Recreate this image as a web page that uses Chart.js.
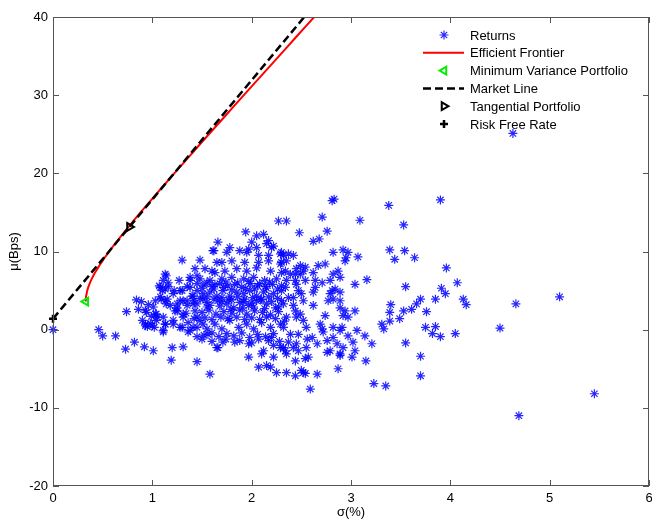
<!DOCTYPE html>
<html>
<head>
<meta charset="utf-8">
<script src="https://cdn.jsdelivr.net/npm/chart.js@4.4.1/dist/chart.umd.min.js"></script>
<style>
  html, body { margin: 0; padding: 0; background: #fff; }
  #wrap { width: 652px; height: 522px; }
</style>
</head>
<body>
<div id="wrap"><canvas id="chart" width="652" height="522"></canvas></div>
<script>
const xTickValues = [0, 1, 2, 3, 4, 5, 6];
const yTickValues = [-20, -10, 0, 10, 20, 30, 40];

const seriesLabels = [
  "Returns",
  "Efficient Frontier",
  "Minimum Variance Portfolio",
  "Market Line",
  "Tangential Portfolio",
  "Risk Free Rate"
];

// [sigma (%), mu (Bps)]
const returnsData = [
  [0.0, 0.0], [0.46, 0.0], [0.5, -0.8], [0.63, -0.8], [0.74, 2.3], [0.73, -2.5], [0.82, -1.6], [0.92, -2.2], [1.01, -2.7],
  [0.84, 3.8], [0.89, 3.6], [0.96, 3.2], [1.01, 2.9], [0.94, 2.2], [0.99, 1.7], [1.04, 2.0], [0.86, 2.6], [0.93, 2.5],
  [0.9, 1.2], [0.93, 0.5], [0.98, 0.8], [1.02, 0.3], [0.93, 0.7], [0.95, 0.4],
  [1.11, 1.6], [1.13, 0.7], [1.11, -0.3], [1.2, -2.3], [1.19, -3.9], [1.31, -2.2], [1.45, -4.1],
  [1.07, 5.6], [1.1, 5.0], [1.16, 5.5], [1.08, 4.2], [1.15, 3.9], [1.21, 4.6], [1.28, 5.0], [1.35, 5.5], [1.4, 4.3],
  [1.28, 3.7], [1.35, 3.1], [1.41, 3.3], [1.18, 3.1], [1.25, 2.4], [1.31, 1.6], [1.36, 0.9], [1.3, 0.3], [1.38, -0.1],
  [1.45, 0.3], [1.21, 0.7],
  [1.3, 8.9], [1.48, 8.9], [1.62, 10.1], [1.66, 11.2],
  [1.13, 7.1], [1.11, 6.3], [1.08, 5.4], [1.13, 5.2], [1.16, 6.0],
  [1.27, 6.3], [1.3, 5.0], [1.22, 5.0], [1.38, 6.3], [1.43, 7.8], [1.53, 7.8], [1.6, 7.5], [1.65, 8.6], [1.45, 6.9],
  [1.09, 3.9], [1.13, 3.7], [1.03, 3.7],
  [1.25, 3.3], [1.31, 3.7], [1.35, 3.7], [1.23, 2.4], [1.31, 2.0], [1.21, 1.2], [1.28, 0.3], [1.36, -0.3], [1.13, 0.7],
  [1.11, -0.1], [1.03, 2.0], [1.05, 1.6], [1.0, 0.5], [1.58, -5.7], [1.65, -2.3], [1.56, -0.6], [1.51, 0.7], [1.45, 1.6],
  [1.41, 0.3],
  [2.27, 13.9], [1.94, 12.5], [2.05, 12.0], [2.12, 12.2], [2.17, 11.4], [2.22, 10.7], [2.3, 9.9], [1.78, 10.5],
  [1.88, 10.1], [1.97, 10.3], [2.0, 11.2],
  [1.7, 8.6], [1.8, 8.8], [1.93, 8.6], [2.07, 8.6], [2.17, 8.8], [2.29, 8.4],
  [1.66, -2.3], [1.71, -1.6], [1.83, -1.6], [1.97, -1.8], [2.07, -1.2], [2.17, -1.4], [2.29, -2.3],
  [1.97, -3.5], [2.1, -3.1], [2.22, -3.5], [2.07, -4.8], [2.15, -4.6], [2.19, -4.8], [2.25, -5.5],
  [2.81, 16.5], [2.83, 16.7], [2.71, 14.4], [2.35, 13.9], [2.48, 12.4], [2.76, 12.6], [2.62, 11.3], [2.68, 11.6],
  [2.82, 9.9], [2.92, 10.2], [2.95, 9.2], [2.97, 9.9],
  [2.29, 9.7], [2.32, 9.5], [2.37, 9.7], [2.42, 9.5], [2.35, 8.8], [2.3, 8.6],
  [2.49, 8.2], [2.54, 8.0], [2.45, 7.8], [2.44, 7.1], [2.44, 6.3], [2.67, 8.2], [2.74, 8.4],
  [2.64, 6.3], [2.71, 6.0], [2.64, 5.4], [2.82, 7.1], [2.87, 7.5], [2.79, 6.3], [2.81, 5.0], [2.84, 5.2], [2.77, 3.7],
  [2.82, 3.9], [2.89, 3.7],
  [2.94, 2.4], [2.92, 1.8], [2.97, 1.6], [2.74, 1.8],
  [2.71, 0.1], [2.72, -0.3], [2.76, -1.4], [2.82, -1.0], [2.91, 0.3], [2.89, -0.1], [2.86, -1.8], [2.89, -3.1],
  [2.97, -0.8], [2.92, -2.3],
  [2.87, -5.0], [2.76, -2.9], [2.66, -5.7], [2.59, -7.6], [2.52, -5.5], [2.44, -5.9], [2.35, -5.5], [2.54, -3.7],
  [2.57, -3.5], [2.44, -4.0],
  [2.34, 7.5], [2.39, 7.1], [2.34, 5.4], [2.37, 4.1], [2.32, 3.3], [2.42, 4.1], [2.47, 5.0], [2.5, 4.6], [2.44, 2.4],
  [2.35, 1.6], [2.45, 1.6], [2.49, 2.0], [2.52, 1.2], [2.32, 0.3], [2.39, -0.6], [2.47, -0.6], [2.37, -1.6], [2.32, -2.3],
  [2.42, -2.3], [2.35, -3.1], [2.45, -1.8], [2.47, -2.7], [2.61, -1.0], [2.56, -1.2], [2.52, 7.5], [2.49, 7.1],
  [3.38, 15.9], [3.9, 16.6], [3.09, 14.0], [3.53, 13.4], [3.07, 9.3], [3.39, 10.2], [3.54, 10.1], [3.44, 9.0], [3.64, 9.2],
  [3.96, 7.9], [4.07, 6.0], [3.91, 5.3], [3.95, 4.6], [4.13, 3.9], [4.16, 3.2], [3.55, 5.5], [3.16, 6.4], [3.04, 5.8],
  [3.85, 3.9], [3.7, 3.9], [3.66, 3.3], [3.61, 2.6], [3.53, 2.4], [3.76, 2.3], [3.49, 1.4], [3.39, 1.1], [3.39, 2.2],
  [3.4, 3.2], [3.31, 0.7], [3.33, 0.1], [3.75, 0.3], [3.85, 0.4], [3.82, -0.5], [3.9, -0.9], [4.05, -0.5], [3.55, -1.7],
  [3.04, 2.4], [4.5, 0.2], [4.66, 3.3], [5.1, 4.2], [3.7, -3.4], [3.7, -5.9], [3.23, -6.9], [3.35, -7.2], [5.45, -8.2],
  [4.69, -11.0], [3.15, -4.0], [3.21, -1.8], [3.04, -2.7], [3.01, -3.5], [2.89, -3.3], [2.54, -5.6], [2.5, -5.2],
  [3.02, -1.6], [3.06, -0.1], [3.14, -0.8], [4.63, 25.1],
  [2.05, 10.5], [2.15, 11.0], [2.2, 10.5], [1.61, 10.1], [1.75, 9.9], [1.95, 9.9], [2.07, 9.5], [2.17, 9.5], [2.94, 8.8],
  [1.63, 7.3], [1.73, 7.5], [1.85, 7.8], [1.95, 7.5], [2.05, 7.9], [2.19, 7.5], [2.3, 7.3], [2.62, 7.3], [2.89, 6.7],
  [1.14, 6.9], [1.38, 6.7], [1.48, 6.5], [1.58, 6.3], [1.7, 6.5], [1.8, 6.7], [1.92, 6.5], [2.02, 6.7], [2.13, 6.3],
  [2.25, 6.5], [2.35, 6.3], [2.45, 5.8], [2.54, 6.3],
  [1.45, 5.0], [1.51, 4.6], [1.58, 4.8], [1.65, 4.3], [1.71, 5.0], [1.78, 4.3], [1.85, 4.8], [1.92, 4.6], [1.98, 5.0],
  [2.05, 4.3], [2.12, 4.8], [2.22, 4.6], [2.3, 5.0], [2.62, 4.8], [2.79, 4.6], [2.89, 4.8],
  [1.14, 3.3], [1.25, 2.8], [1.45, 3.3], [1.51, 3.9], [1.58, 3.1], [1.66, 3.7], [1.75, 3.3], [1.82, 2.8], [1.88, 3.5],
  [1.97, 3.1], [2.05, 3.7], [2.15, 3.3], [2.24, 2.8], [2.42, 3.1], [2.52, 3.7], [2.62, 3.1], [2.89, 2.8],
  [1.04, 1.2], [1.48, 1.2], [1.55, 0.1], [1.63, 0.7], [1.7, 0.1], [1.78, 1.2], [1.87, 0.3], [1.95, 0.7], [2.02, 0.1],
  [2.1, 0.9], [2.19, 0.3], [2.29, 0.7], [2.55, 0.3], [2.69, 0.7], [2.82, 0.3],
  [1.5, -1.2], [2.12, -2.7], [2.22, -2.0], [2.34, -2.7], [2.55, -2.3], [2.66, -1.8], [2.79, -2.7],
  [1.52, 5.7], [1.6, 5.5], [1.68, 5.9], [1.76, 5.6], [1.83, 5.8], [1.9, 5.4], [1.99, 5.9], [2.06, 5.6], [2.14, 5.5],
  [2.21, 5.8], [2.3, 5.6], [1.45, 5.9], [1.38, 5.4],
  [1.48, 4.0], [1.55, 4.2], [1.62, 3.9], [1.7, 4.1], [1.77, 3.8], [1.86, 4.2], [1.93, 3.9], [2.01, 4.1], [2.09, 3.8],
  [2.17, 4.2], [2.26, 4.0], [1.41, 4.3],
  [1.5, 2.2], [1.57, 2.5], [1.64, 2.0], [1.72, 2.3], [1.8, 2.1], [1.88, 2.5], [1.95, 2.0], [2.03, 2.4], [2.11, 2.2],
  [2.19, 1.9], [2.27, 2.3], [1.43, 2.4], [1.34, 2.1],
  [1.52, -0.7], [1.6, -0.4], [1.67, -0.9], [1.75, -0.5], [1.82, -0.8], [1.9, -0.4], [1.98, -1.0], [2.06, -0.6],
  [2.14, -0.9], [2.22, -0.5], [1.45, -0.9],
  [1.55, 6.0], [1.63, 5.8], [1.74, 6.1], [1.86, 6.0], [1.97, 6.2], [2.08, 5.9], [2.18, 6.1],
  [1.5, 5.3], [1.62, 5.2], [1.72, 5.4], [1.8, 5.1], [1.94, 5.3], [2.03, 5.2], [2.15, 5.3], [2.26, 5.2],
  [1.42, 3.7], [1.55, 3.5], [1.7, 3.6], [1.8, 3.8], [1.92, 3.6], [2.0, 3.4], [2.1, 3.9], [2.2, 3.6], [2.3, 3.7],
  [1.42, 1.4], [1.53, 1.5], [1.6, 1.3], [1.69, 1.6], [1.76, 1.4], [1.85, 1.6], [1.93, 1.3], [2.0, 1.5], [2.08, 1.3],
  [2.15, 1.6], [2.24, 1.4], [2.33, 1.1],
  [1.6, -1.5], [1.74, -1.2], [1.88, -1.4], [2.0, -1.7], [2.2, -1.0], [2.28, -1.5],
  [1.55, 2.9], [1.68, 3.0], [1.79, 2.6], [1.91, 2.8], [2.02, 2.9], [2.13, 2.7], [2.27, 2.9]
];

const frontierSigma = [0.330, 0.331, 0.337, 0.345, 0.357, 0.372, 0.390, 0.410, 0.433, 0.457, 0.482, 0.508, 0.537,
  0.565, 0.625, 0.687, 0.783, 0.881, 1.050, 1.221, 1.395, 1.569, 1.745, 1.921, 2.098, 2.275, 2.452, 2.630, 2.772];
const frontierMu = [3.6, 4.0, 4.5, 5.0, 5.5, 6.0, 6.5, 7.0, 7.5, 8.0, 8.5, 9.0, 9.5,
  10.0, 11.0, 12.0, 13.5, 15.0, 17.5, 20.0, 22.5, 25.0, 27.5, 30.0, 32.5, 35.0, 37.5, 40.0, 42.0];

const marketSigma = [0, 0.77, 2.7];
const marketMu = [1.4, 13.15, 42.6];

const minVariance = [0.33, 3.6];
const tangential = [0.77, 13.15];
const riskFree = [0, 1.4];

const FONT = "'Liberation Sans', Arial, sans-serif";
const toPts = arr => arr.map(([x, y]) => ({ x, y }));
const zip = (xs, ys) => xs.map((x, i) => ({ x, y: ys[i] }));

const boxPlugin = {
  id: "boxTicks",
  afterDatasetsDraw(chart) {
    const { ctx, chartArea: a, scales } = chart;
    ctx.save();
    ctx.strokeStyle = "#555";
    ctx.lineWidth = 1;
    ctx.strokeRect(a.left + 0.5, a.top + 0.5, a.right - a.left - 1, a.bottom - a.top - 1);
    ctx.beginPath();
    xTickValues.forEach(v => {
      const px = Math.round(scales.x.getPixelForValue(v)) + 0.5;
      ctx.moveTo(px, a.bottom); ctx.lineTo(px, a.bottom - 6);
      ctx.moveTo(px, a.top); ctx.lineTo(px, a.top + 6);
    });
    yTickValues.forEach(v => {
      const py = Math.round(scales.y.getPixelForValue(v)) + 0.5;
      ctx.moveTo(a.left, py); ctx.lineTo(a.left + 6, py);
      ctx.moveTo(a.right, py); ctx.lineTo(a.right - 6, py);
    });
    ctx.stroke();
    ctx.restore();
  }
};

const legendPlugin = {
  id: "matlabLegend",
  afterDraw(chart) {
    const { ctx, chartArea: a } = chart;
    ctx.save();
    ctx.font = "13px " + FONT;
    ctx.textBaseline = "middle";
    ctx.fillStyle = "#000";
    chart.data.datasets.forEach((ds, i) => {
      const y = a.top + 18 + i * 17.8;
      const cx = a.right - 205;
      if (ds.showLine) {
        ctx.save();
        ctx.strokeStyle = ds.borderColor;
        ctx.lineWidth = ds.borderWidth;
        ctx.setLineDash(ds.borderDash || []);
        ctx.beginPath();
        ctx.moveTo(a.right - 226, y);
        ctx.lineTo(a.right - 185, y);
        ctx.stroke();
        ctx.restore();
      } else {
        ctx.save();
        ctx.strokeStyle = ds.pointBorderColor;
        ctx.fillStyle = "rgba(0,0,0,0)";
        ctx.lineWidth = ds.pointBorderWidth;
        Chart.helpers.drawPoint(ctx, {
          pointStyle: ds.pointStyle,
          radius: ds.pointRadius,
          rotation: ds.pointRotation || 0,
          borderWidth: ds.pointBorderWidth
        }, cx, y);
        ctx.restore();
      }
      ctx.fillText(ds.label, a.right - 179, y + 1);
    });
    ctx.restore();
  }
};

new Chart(document.getElementById("chart"), {
  type: "scatter",
  data: {
    datasets: [
      {
        label: seriesLabels[0],
        data: toPts(returnsData),
        pointStyle: "star",
        pointRadius: 4.5,
        pointBorderWidth: 1.2,
        pointBorderColor: "rgba(0,0,255,0.85)",
        pointBackgroundColor: "rgba(0,0,0,0)",
        showLine: false,
        clip: false,
        order: 6
      },
      {
        label: seriesLabels[1],
        data: zip(frontierSigma, frontierMu),
        showLine: true,
        borderColor: "#ff0000",
        borderWidth: 2,
        pointRadius: 0,
        cubicInterpolationMode: "monotone",
        clip: { left: 3, top: 0, right: 0, bottom: 0 },
        order: 5
      },
      {
        label: seriesLabels[2],
        data: [{ x: minVariance[0], y: minVariance[1] }],
        pointStyle: "triangle",
        pointRotation: 270,
        pointRadius: 4.5,
        pointBorderWidth: 2,
        pointBorderColor: "#00ee00",
        pointBackgroundColor: "rgba(0,0,0,0)",
        showLine: false,
        clip: false,
        order: 4
      },
      {
        label: seriesLabels[3],
        data: zip(marketSigma, marketMu),
        showLine: true,
        borderColor: "#000",
        borderWidth: 2.5,
        borderDash: [8, 4],
        pointRadius: 0,
        clip: { left: 3, top: 0, right: 0, bottom: 0 },
        order: 3
      },
      {
        label: seriesLabels[4],
        data: [{ x: tangential[0], y: tangential[1] }],
        pointStyle: "triangle",
        pointRotation: 90,
        pointRadius: 4.5,
        pointBorderWidth: 2,
        pointBorderColor: "#000",
        pointBackgroundColor: "rgba(0,0,0,0)",
        showLine: false,
        clip: false,
        order: 2
      },
      {
        label: seriesLabels[5],
        data: [{ x: riskFree[0], y: riskFree[1] }],
        pointStyle: "cross",
        pointRadius: 4,
        pointBorderWidth: 2.5,
        pointBorderColor: "#000",
        pointBackgroundColor: "rgba(0,0,0,0)",
        showLine: false,
        clip: false,
        order: 1
      }
    ]
  },
  options: {
    responsive: false,
    devicePixelRatio: 1,
    animation: false,
    layout: { autoPadding: false, padding: { top: 17, right: 3, left: 0, bottom: 0 } },
    plugins: { legend: { display: false }, tooltip: { enabled: false } },
    scales: {
      x: {
        type: "linear",
        min: 0,
        max: 6,
        grid: { display: false, drawTicks: false },
        border: { display: false },
        afterBuildTicks: s => { s.ticks = xTickValues.map(v => ({ value: v })); },
        afterFit: s => { s.height = 36; s.paddingLeft = 0; s.paddingRight = 0; },
        ticks: { padding: 5, color: "#000", font: { size: 13, family: FONT }, maxRotation: 0 },
        title: { display: true, text: "σ(%)", color: "#000", font: { size: 13, family: FONT }, padding: { top: 0, bottom: 2 } }
      },
      y: {
        type: "linear",
        min: -20,
        max: 40,
        grid: { display: false, drawTicks: false },
        border: { display: false },
        afterBuildTicks: s => { s.ticks = yTickValues.map(v => ({ value: v })); },
        afterFit: s => { s.width = 53; s.paddingTop = 0; s.paddingBottom = 0; },
        ticks: { padding: 5, color: "#000", font: { size: 13, family: FONT } },
        title: { display: true, text: "μ(Bps)", color: "#000", font: { size: 13, family: FONT }, padding: { top: 7, bottom: 0 } }
      }
    }
  },
  plugins: [boxPlugin, legendPlugin]
});
</script>
</body>
</html>
